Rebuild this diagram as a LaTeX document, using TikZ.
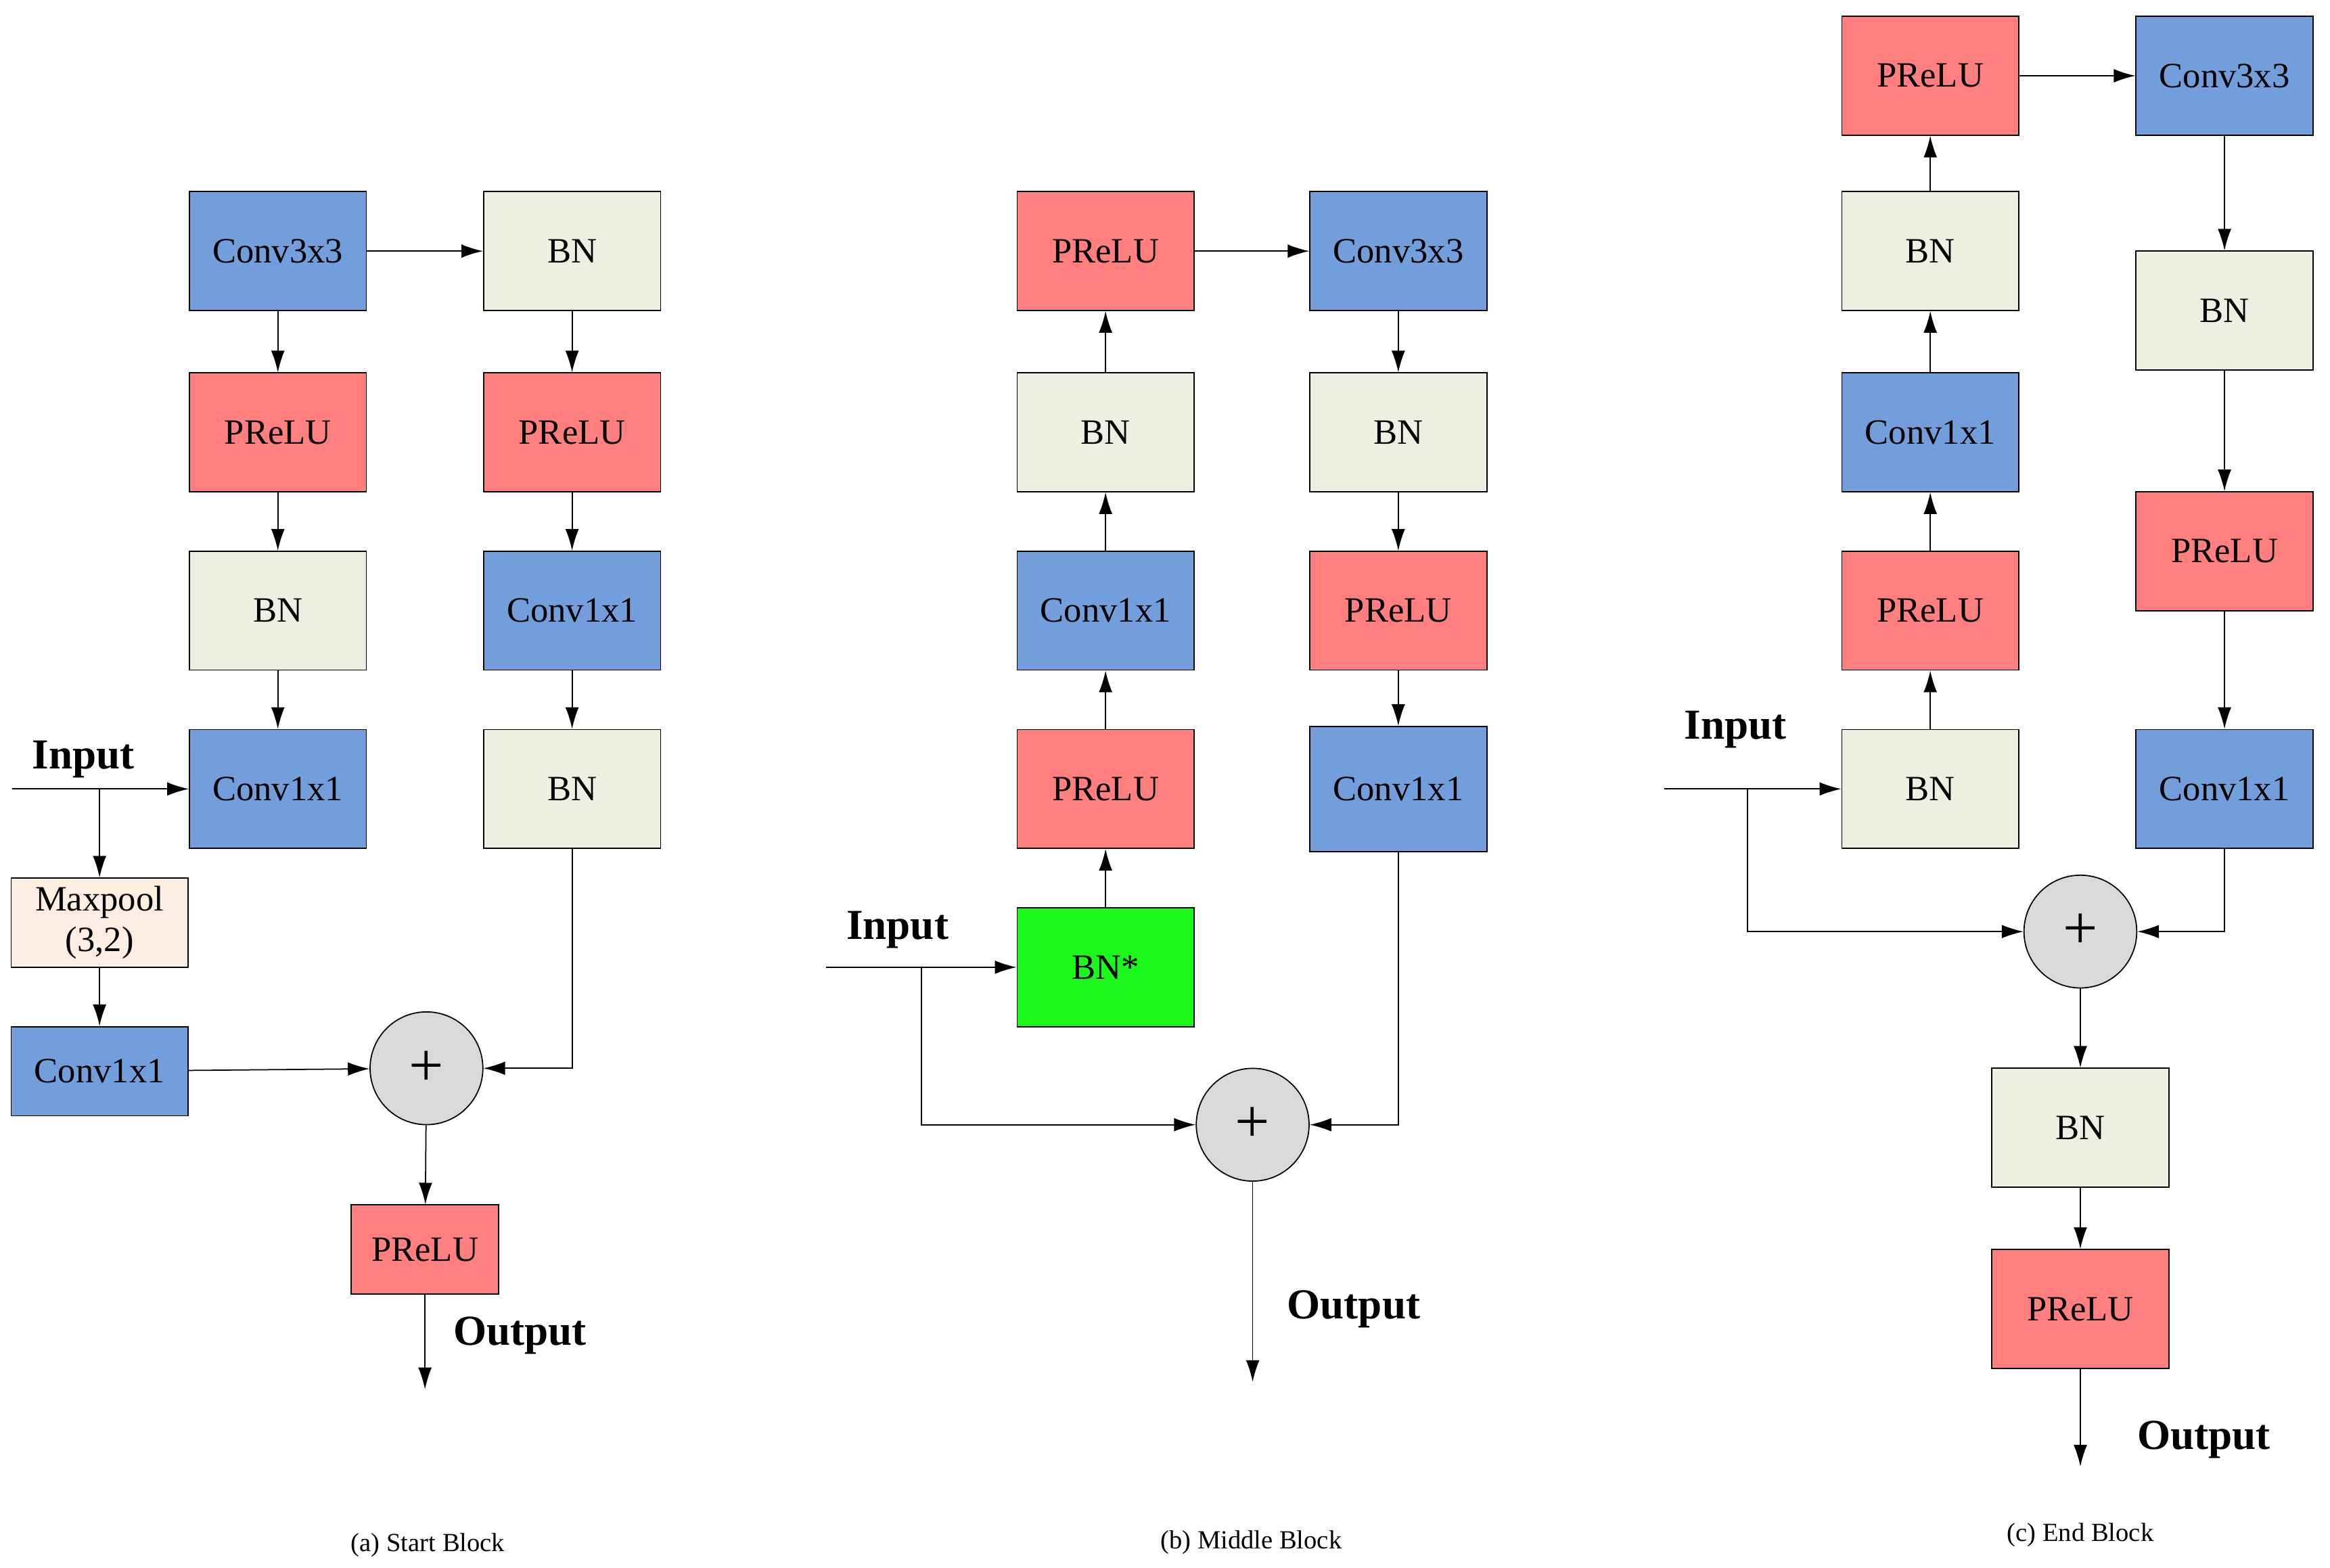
\documentclass[tikz,border=0pt]{standalone}
\usepackage{fontspec}
\setmainfont{Liberation Serif}
\usetikzlibrary{arrows.meta}
\definecolor{cblue}{HTML}{729FDB}
\definecolor{cred}{HTML}{FF7F7F}
\definecolor{cbn}{HTML}{EDF0E0}
\definecolor{cgreen}{HTML}{1CF71C}
\definecolor{cpeach}{HTML}{FDEEE2}
\definecolor{cgray}{HTML}{D9D9D9}
\begin{document}
\begin{tikzpicture}[x=0.022cm,y=-0.022cm,
  box/.style={draw,minimum width=2.62cm,minimum height=1.76cm,inner sep=0pt,font=\fontsize{15}{17}\selectfont},
  sbox/.style={box,minimum height=1.32cm},
  conv/.style={box,fill=cblue},
  relu/.style={box,fill=cred},
  bn/.style={box,fill=cbn},
  add/.style={draw,circle,fill=cgray,minimum size=1.67cm,inner sep=0pt,font=\fontsize{26}{26}\selectfont},
  lbl/.style={font=\bfseries\fontsize{18}{20}\selectfont},
  captxt/.style={font=\fontsize{11}{13}\selectfont},
  arr/.style={-{Latex[length=0.32cm,width=0.2cm]}},
  every path/.style={line width=0.5pt}]
\useasboundingbox (0,0) rectangle (1568,1055);
% (a)
\node[conv] (a1) at (187,169) {Conv3x3};
\node[relu] (a2) at (187,291) {PReLU};
\node[bn] (a3) at (187,411) {BN};
\node[conv] (a4) at (187,531) {Conv1x1};
\node[bn] (a5) at (385,169) {BN};
\node[relu] (a6) at (385,291) {PReLU};
\node[conv] (a7) at (385,411) {Conv1x1};
\node[bn] (a8) at (385,531) {BN};
\node[sbox,fill=cpeach,align=center] (amp) at (67,621) {Maxpool\\(3,2)};
\node[sbox,fill=cblue] (ac) at (67,721) {Conv1x1};
\node[add] (aadd) at (287,719) {+};
\node[sbox,fill=cred,minimum width=2.18cm] (ao) at (286,841) {PReLU};
\coordinate (ain) at (8,531);
\coordinate (aout) at (286,935);
\coordinate (aturn) at (385,719);
\node[lbl] (ainl) at (56,511) {Input};
\node[lbl] (aoutl) at (350,899) {Output};
\node[captxt] (acap) at (288,1040) {(a) Start Block};
\draw[arr] (a1) -- (a2); \draw[arr] (a2) -- (a3); \draw[arr] (a3) -- (a4);
\draw[arr] (a1) -- (a5); \draw[arr] (a5) -- (a6); \draw[arr] (a6) -- (a7); \draw[arr] (a7) -- (a8);
\draw[arr] (ain) -- (a4);
\draw[arr] (67,531) -- (amp);
\draw[arr] (amp) -- (ac);
\draw[arr] (ac) -- (aadd);
\draw[arr] (a8) -- (aturn) -- (aadd);
\draw[arr] (aadd) -- (ao);
\draw[arr] (ao) -- (aout);
% (b)
\node[bn,fill=cgreen] (b1) at (744,651) {BN*};
\node[relu] (b2) at (744,531) {PReLU};
\node[conv] (b3) at (744,411) {Conv1x1};
\node[bn] (b4) at (744,291) {BN};
\node[relu] (b5) at (744,169) {PReLU};
\node[conv] (b6) at (941,169) {Conv3x3};
\node[bn] (b7) at (941,291) {BN};
\node[relu] (b8) at (941,411) {PReLU};
\node[conv,minimum height=1.85cm] (b9) at (941,531) {Conv1x1};
\node[add] (badd) at (843,757) {+};
\coordinate (bin) at (556,651);
\coordinate (bturnl) at (620,757);
\coordinate (bturnr) at (941,757);
\coordinate (bout) at (843,930);
\node[lbl] (binl) at (604,626) {Input};
\node[lbl] (boutl) at (911,881) {Output};
\node[captxt] (bcap) at (842,1038) {(b) Middle Block};
\draw[arr] (b1) -- (b2); \draw[arr] (b2) -- (b3); \draw[arr] (b3) -- (b4); \draw[arr] (b4) -- (b5);
\draw[arr] (b5) -- (b6); \draw[arr] (b6) -- (b7); \draw[arr] (b7) -- (b8); \draw[arr] (b8) -- (b9);
\draw[arr] (bin) -- (b1);
\draw[arr] (620,651) -- (bturnl) -- (badd);
\draw[arr] (b9) -- (bturnr) -- (badd);
\draw[arr] (badd) -- (bout);
% (c)
\node[bn] (c1) at (1299,531) {BN};
\node[relu] (c2) at (1299,411) {PReLU};
\node[conv] (c3) at (1299,291) {Conv1x1};
\node[bn] (c4) at (1299,169) {BN};
\node[relu] (c5) at (1299,51) {PReLU};
\node[conv] (c6) at (1497,51) {Conv3x3};
\node[bn] (c7) at (1497,209) {BN};
\node[relu] (c8) at (1497,371) {PReLU};
\node[conv] (c9) at (1497,531) {Conv1x1};
\node[add] (cadd) at (1400,627) {+};
\node[bn] (c10) at (1400,759) {BN};
\node[relu] (c11) at (1400,881) {PReLU};
\coordinate (cin) at (1120,531);
\coordinate (cturnl) at (1176,627);
\coordinate (cturnr) at (1497,627);
\coordinate (cout) at (1400,987);
\node[lbl] (cinl) at (1168,491) {Input};
\node[lbl] (coutl) at (1483,969) {Output};
\node[captxt] (ccap) at (1400,1033) {(c) End Block};
\draw[arr] (c1) -- (c2); \draw[arr] (c2) -- (c3); \draw[arr] (c3) -- (c4); \draw[arr] (c4) -- (c5);
\draw[arr] (c5) -- (c6); \draw[arr] (c6) -- (c7); \draw[arr] (c7) -- (c8); \draw[arr] (c8) -- (c9);
\draw[arr] (cin) -- (c1);
\draw[arr] (1176,531) -- (cturnl) -- (cadd);
\draw[arr] (c9) -- (cturnr) -- (cadd);
\draw[arr] (cadd) -- (c10);
\draw[arr] (c10) -- (c11);
\draw[arr] (c11) -- (cout);
\end{tikzpicture}
\end{document}
